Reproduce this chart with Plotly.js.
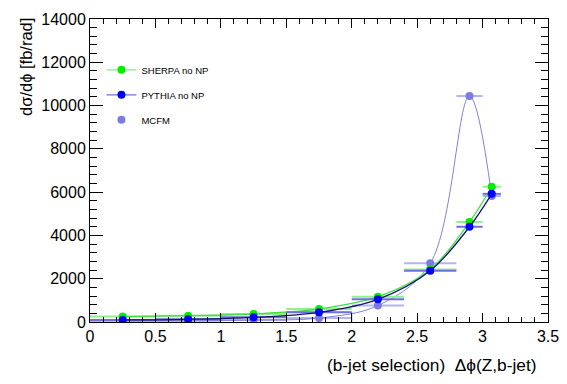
<!DOCTYPE html>
<html>
<head>
<meta charset="utf-8">
<script src="https://cdn.plot.ly/plotly-3.0.1.min.js"></script>
<style>html,body{margin:0;padding:0;background:#fff;}#chart{width:567px;height:384px;}</style>
</head>
<body>
<div id="chart"></div>
<script>
// Bin centres and edges of delta-phi(Z,b-jet)
var xCentres = [0.25, 0.75, 1.25, 1.75, 2.2, 2.6, 2.9, 3.07];
var binLo    = [0.0, 0.5, 1.0, 1.5, 2.0, 2.4, 2.8, 3.0];
var binHi    = [0.5, 1.0, 1.5, 2.0, 2.4, 2.8, 3.0, 3.14];
// dsigma/dphi [fb/rad]
var sherpa = [250, 290, 370, 600, 1170, 2430, 4620, 6250];
var pythia = [95, 125, 215, 445, 1050, 2370, 4400, 5920];
var mcfm   = [50, 55, 90, 180, 760, 2710, 10440, 5820];
var seriesNames = ["SHERPA no NP", "PYTHIA no NP", "MCFM"];
var xTickVals = [0, 0.5, 1, 1.5, 2, 2.5, 3, 3.5];
var yTickVals = [0, 2000, 4000, 6000, 8000, 10000, 12000, 14000];

var errPlus = xCentres.map(function(x, i){ return binHi[i] - x; });
var errMinus = xCentres.map(function(x, i){ return x - binLo[i]; });

function errX(color){
  return {type:'data', symmetric:false, array:errPlus, arrayminus:errMinus,
          color:color, thickness:2, width:0};
}

var nHist = 4;
var histX = binLo.slice(0, nHist).concat([binHi[nHist-1], binHi[nHist-1]]);
var histY = pythia.slice(0, nHist).concat([pythia[nHist-1], 0]);

var traces = [
  {x: histX, y: histY, mode:'lines', line:{shape:'hv', color:'#8c8cdc', width:1.2},
   showlegend:false, hoverinfo:'skip'},
  {x: xCentres, y: mcfm, mode:'lines+markers', line:{shape:'spline', smoothing:1, color:'#8080e0', width:1},
   marker:{color:'#7b7be6', size:8}, error_x: errX('#b4b4f0'), showlegend:false},
  {x: xCentres, y: sherpa, mode:'lines+markers', line:{shape:'spline', smoothing:1, color:'#44dd44', width:1.3},
   marker:{color:'#00ee00', size:8}, error_x: errX('#8ef08e'), showlegend:false},
  {x: xCentres, y: pythia, mode:'lines+markers', line:{shape:'spline', smoothing:1, color:'#14146e', width:1.3},
   marker:{color:'#0000ff', size:8}, error_x: errX('#7070d8'), showlegend:false},
  // legend entries
  {x:[null], y:[null], mode:'lines+markers', name:seriesNames[0], legendgroup:'a',
   line:{color:'#7ff07f', width:1.3}, marker:{color:'#00ee00', size:8}},
  {x:[null], y:[null], mode:'lines+markers', name:seriesNames[1], legendgroup:'b',
   line:{color:'#7070d0', width:1.3}, marker:{color:'#0000ee', size:8}},
  {x:[null], y:[null], mode:'markers', name:seriesNames[2], legendgroup:'c',
   marker:{color:'#7b7be6', size:8}}
];

var fontFam = 'Liberation Sans, Arial, Helvetica, sans-serif';
var layout = {
  width:567, height:384,
  margin:{l:90, r:19, t:19, b:62, pad:0},
  paper_bgcolor:'#fff', plot_bgcolor:'#fff',
  font:{family:fontFam, color:'#000', size:16},
  showlegend:true,
  legend:{x:0.025, y:0.88, xanchor:'left', yanchor:'top', bgcolor:'rgba(0,0,0,0)',
          font:{size:9.5, family:fontFam}, tracegroupgap:6, itemwidth:30},
  xaxis:{range:[0,3.5], tickvals:xTickVals, ticktext:xTickVals.map(String),
         ticks:'inside', ticklen:9, tickwidth:1, tickcolor:'#000',
         showline:true, linecolor:'#000', linewidth:1, mirror:'ticks',
         showgrid:false, zeroline:false, tickfont:{size:16},
         minor:{dtick:0.1, ticks:'inside', ticklen:5, tickcolor:'#000', showgrid:false}},
  yaxis:{range:[0,14000], tickvals:yTickVals, ticktext:yTickVals.map(String),
         ticks:'inside', ticklen:13, tickwidth:1, tickcolor:'#000',
         showline:true, linecolor:'#000', linewidth:1, mirror:'ticks',
         showgrid:false, zeroline:false, tickfont:{size:16},
         minor:{dtick:400, ticks:'inside', ticklen:7, tickcolor:'#000', showgrid:false}},
  annotations:[
    {text:'dσ/dϕ [fb/rad]', xref:'paper', yref:'paper', x:(26-90)/458, y:1.01,
     xanchor:'center', yanchor:'top', textangle:-90, showarrow:false, font:{size:16.5}},
    {text:'(b-jet selection)  Δϕ(Z,b-jet)', xref:'paper', yref:'paper', x:(538-90)/458, y:(322-365)/303,
     xanchor:'right', yanchor:'middle', showarrow:false, font:{size:17.3}}
  ]
};
Plotly.newPlot('chart', traces, layout, {displayModeBar:false, staticPlot:true});
</script>
</body>
</html>
